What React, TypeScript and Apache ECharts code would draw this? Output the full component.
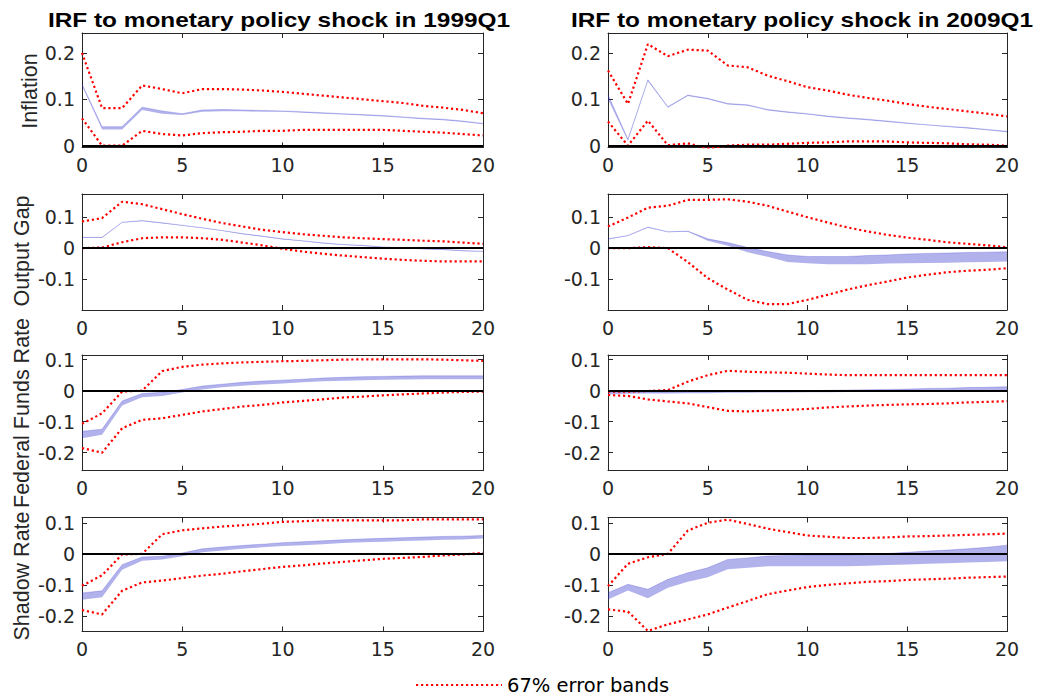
import React, { useEffect, useRef } from "react";
import * as echarts from "echarts";

// Horizons (quarters after the shock)
const horizons = Array.from({ length: 21 }, (_, i) => String(i));

const titles = [
  "IRF to monetary policy shock in 1999Q1",
  "IRF to monetary policy shock in 2009Q1",
];
const variableNames = ["Inflation", "Output Gap", "Federal Funds Rate", "Shadow Rate"];
const legendLabel = "67% error bands";

// ---- 1999Q1 Inflation
const infl99Up = [0.200, 0.081, 0.081, 0.130, 0.122, 0.113, 0.122, 0.122, 0.121, 0.119, 0.116, 0.112, 0.108, 0.104, 0.100, 0.096, 0.092, 0.086, 0.082, 0.077, 0.070];
const infl99Lo = [0.059, 0.000, 0.000, 0.032, 0.025, 0.022, 0.027, 0.029, 0.030, 0.032, 0.032, 0.034, 0.034, 0.034, 0.034, 0.034, 0.032, 0.030, 0.028, 0.025, 0.022];
const infl99MedLo = [0.129, 0.035, 0.035, 0.077, 0.069, 0.066, 0.073, 0.074, 0.074, 0.073, 0.073, 0.071, 0.069, 0.067, 0.065, 0.063, 0.060, 0.057, 0.055, 0.051, 0.046];
const infl99MedHi = [0.133, 0.041, 0.041, 0.083, 0.075, 0.069, 0.077, 0.078, 0.077, 0.076, 0.075, 0.073, 0.071, 0.069, 0.067, 0.065, 0.062, 0.059, 0.057, 0.053, 0.048];

// ---- 2009Q1 Inflation
const infl09Up = [0.162, 0.090, 0.219, 0.193, 0.207, 0.205, 0.173, 0.169, 0.151, 0.139, 0.126, 0.119, 0.110, 0.103, 0.097, 0.090, 0.084, 0.079, 0.074, 0.069, 0.063];
const infl09Lo = [0.052, 0.000, 0.054, 0.001, 0.005, -0.006, 0.000, 0.002, 0.002, 0.004, 0.006, 0.007, 0.009, 0.009, 0.009, 0.007, 0.006, 0.005, 0.003, 0.002, 0.000];
const infl09MedLo = [0.100, 0.010, 0.139, 0.082, 0.107, 0.100, 0.089, 0.086, 0.076, 0.071, 0.067, 0.062, 0.058, 0.055, 0.051, 0.047, 0.044, 0.040, 0.037, 0.033, 0.029];
const infl09MedHi = [0.110, 0.014, 0.142, 0.084, 0.109, 0.102, 0.091, 0.088, 0.078, 0.073, 0.069, 0.064, 0.060, 0.057, 0.053, 0.049, 0.045, 0.042, 0.039, 0.035, 0.031];

// ---- 1999Q1 Output Gap
const gap99Up = [0.086, 0.097, 0.150, 0.142, 0.126, 0.110, 0.095, 0.081, 0.070, 0.059, 0.052, 0.045, 0.040, 0.035, 0.032, 0.029, 0.027, 0.024, 0.022, 0.018, 0.014];
const gap99Lo = [0.000, 0.002, 0.019, 0.032, 0.035, 0.035, 0.032, 0.027, 0.018, 0.009, -0.002, -0.011, -0.018, -0.024, -0.029, -0.034, -0.038, -0.041, -0.043, -0.043, -0.043];
const gap99MedLo = [0.033, 0.033, 0.082, 0.087, 0.080, 0.072, 0.064, 0.055, 0.045, 0.037, 0.028, 0.022, 0.015, 0.010, 0.007, 0.002, -0.001, -0.004, -0.006, -0.010, -0.012];
const gap99MedHi = [0.035, 0.035, 0.084, 0.089, 0.082, 0.074, 0.066, 0.057, 0.047, 0.039, 0.030, 0.024, 0.017, 0.012, 0.009, 0.004, 0.001, -0.002, -0.004, -0.008, -0.010];

// ---- 2009Q1 Output Gap
const gap09Up = [0.070, 0.099, 0.131, 0.137, 0.156, 0.156, 0.158, 0.150, 0.137, 0.118, 0.100, 0.083, 0.067, 0.054, 0.043, 0.034, 0.027, 0.019, 0.014, 0.009, 0.003];
const gap09Lo = [0.000, 0.000, 0.003, 0.000, -0.045, -0.097, -0.134, -0.167, -0.181, -0.181, -0.167, -0.151, -0.134, -0.120, -0.108, -0.095, -0.086, -0.078, -0.073, -0.070, -0.065];
const gap09MedLo = [0.028, 0.039, 0.066, 0.051, 0.053, 0.024, 0.008, -0.013, -0.028, -0.045, -0.049, -0.052, -0.052, -0.052, -0.050, -0.049, -0.048, -0.047, -0.046, -0.045, -0.043];
const gap09MedHi = [0.030, 0.041, 0.068, 0.053, 0.055, 0.030, 0.018, 0.002, -0.011, -0.022, -0.027, -0.027, -0.027, -0.024, -0.022, -0.019, -0.017, -0.016, -0.014, -0.013, -0.012];

// ---- 1999Q1 Federal Funds Rate
const ffr99Up = [-0.107, -0.073, -0.003, 0.000, 0.063, 0.077, 0.084, 0.088, 0.091, 0.093, 0.095, 0.096, 0.098, 0.100, 0.101, 0.101, 0.101, 0.101, 0.100, 0.098, 0.096];
const ffr99Lo = [-0.185, -0.200, -0.121, -0.094, -0.089, -0.078, -0.067, -0.059, -0.051, -0.046, -0.038, -0.033, -0.028, -0.022, -0.019, -0.015, -0.012, -0.009, -0.006, -0.004, -0.003];
const ffr99MedLo = [-0.153, -0.142, -0.048, -0.021, -0.017, -0.006, 0.004, 0.011, 0.016, 0.020, 0.023, 0.027, 0.030, 0.032, 0.034, 0.035, 0.036, 0.037, 0.037, 0.037, 0.037];
const ffr99MedHi = [-0.131, -0.124, -0.033, -0.009, -0.005, 0.004, 0.015, 0.021, 0.027, 0.031, 0.034, 0.037, 0.041, 0.043, 0.045, 0.046, 0.047, 0.048, 0.048, 0.048, 0.048];

// ---- 2009Q1 Federal Funds Rate
const ffr09Up = [-0.003, -0.003, -0.001, 0.002, 0.029, 0.050, 0.064, 0.061, 0.059, 0.058, 0.055, 0.052, 0.050, 0.050, 0.050, 0.050, 0.050, 0.050, 0.050, 0.050, 0.050];
const ffr09Lo = [-0.014, -0.017, -0.028, -0.035, -0.041, -0.053, -0.065, -0.067, -0.064, -0.062, -0.059, -0.054, -0.051, -0.048, -0.046, -0.044, -0.043, -0.041, -0.038, -0.036, -0.034];
const ffr09MedLo = [-0.012, -0.010, -0.009, -0.009, -0.008, -0.008, -0.007, -0.007, -0.006, -0.006, -0.005, -0.005, -0.004, -0.004, -0.004, -0.003, -0.003, -0.003, -0.002, -0.002, -0.002];
const ffr09MedHi = [-0.004, -0.004, -0.004, -0.004, -0.003, -0.003, -0.002, -0.002, -0.001, -0.001, 0.000, 0.001, 0.002, 0.003, 0.004, 0.005, 0.007, 0.008, 0.010, 0.011, 0.013];

// ---- 1999Q1 Shadow Rate
const sr99Up = [-0.103, -0.069, -0.002, 0.000, 0.063, 0.076, 0.082, 0.088, 0.092, 0.097, 0.103, 0.105, 0.108, 0.108, 0.108, 0.108, 0.108, 0.111, 0.111, 0.111, 0.111];
const sr99Lo = [-0.181, -0.195, -0.119, -0.092, -0.086, -0.078, -0.070, -0.064, -0.056, -0.049, -0.042, -0.037, -0.031, -0.026, -0.021, -0.016, -0.013, -0.010, -0.005, -0.002, 0.003];
const sr99MedLo = [-0.148, -0.140, -0.051, -0.022, -0.018, -0.008, 0.005, 0.011, 0.016, 0.021, 0.025, 0.028, 0.031, 0.035, 0.037, 0.039, 0.041, 0.043, 0.045, 0.046, 0.049];
const sr99MedHi = [-0.126, -0.119, -0.035, -0.010, -0.008, 0.003, 0.016, 0.022, 0.027, 0.031, 0.036, 0.039, 0.042, 0.045, 0.048, 0.050, 0.052, 0.054, 0.056, 0.057, 0.059];

// ---- 2009Q1 Shadow Rate
const sr09Up = [-0.104, -0.032, -0.011, 0.000, 0.075, 0.100, 0.110, 0.096, 0.081, 0.070, 0.059, 0.055, 0.051, 0.051, 0.053, 0.056, 0.057, 0.059, 0.061, 0.063, 0.065];
const sr09Lo = [-0.179, -0.186, -0.248, -0.227, -0.211, -0.195, -0.173, -0.152, -0.130, -0.118, -0.107, -0.100, -0.095, -0.090, -0.088, -0.084, -0.082, -0.080, -0.077, -0.075, -0.073];
const sr09MedLo = [-0.147, -0.118, -0.143, -0.109, -0.090, -0.075, -0.050, -0.045, -0.040, -0.040, -0.040, -0.040, -0.040, -0.038, -0.036, -0.034, -0.032, -0.030, -0.028, -0.026, -0.024];
const sr09MedHi = [-0.125, -0.098, -0.114, -0.082, -0.061, -0.045, -0.018, -0.013, -0.007, -0.005, -0.004, -0.004, -0.004, -0.002, 0.001, 0.005, 0.009, 0.012, 0.016, 0.021, 0.028];

// y-axis tick values per row
const rowTicks = [
  [0, 0.1, 0.2],
  [-0.1, 0, 0.1],
  [-0.2, -0.1, 0, 0.1],
  [-0.2, -0.1, 0, 0.1],
];

const panels = [
  { row: 0, col: 0, up: infl99Up, lo: infl99Lo, mLo: infl99MedLo, mHi: infl99MedHi },
  { row: 0, col: 1, up: infl09Up, lo: infl09Lo, mLo: infl09MedLo, mHi: infl09MedHi },
  { row: 1, col: 0, up: gap99Up, lo: gap99Lo, mLo: gap99MedLo, mHi: gap99MedHi },
  { row: 1, col: 1, up: gap09Up, lo: gap09Lo, mLo: gap09MedLo, mHi: gap09MedHi },
  { row: 2, col: 0, up: ffr99Up, lo: ffr99Lo, mLo: ffr99MedLo, mHi: ffr99MedHi },
  { row: 2, col: 1, up: ffr09Up, lo: ffr09Lo, mLo: ffr09MedLo, mHi: ffr09MedHi },
  { row: 3, col: 0, up: sr99Up, lo: sr99Lo, mLo: sr99MedLo, mHi: sr99MedHi },
  { row: 3, col: 1, up: sr09Up, lo: sr09Lo, mLo: sr09MedLo, mHi: sr09MedHi },
];

// layout (pixels) and axis ranges
const colLayout = [
  { left: 82, width: 401, titleX: 279 },
  { left: 608, width: 399, titleX: 802 },
];
const rowLayout = [
  { top: 33, height: 114.5, min: -0.004, max: 0.243, nameX: 30, nameY: 91 },
  { top: 194, height: 116, min: -0.2, max: 0.175, nameX: 22, nameY: 251 },
  { top: 355, height: 115.7, min: -0.258, max: 0.115, nameX: 22, nameY: 413 },
  { top: 517.5, height: 114, min: -0.25, max: 0.117, nameX: 22, nameY: 576 },
];

const AXIS = "#262626";
const TXT = "#262626";
const RED = "#ff0000";
const BAND = "rgba(51,51,204,0.38)";
const BAND_EDGE = "rgba(51,51,204,0.3)";

const fmt = (v: number) => {
  const r = Math.round(v * 10) / 10;
  return r === 0 ? "0" : String(r);
};

export default function App() {
  const ref = useRef<HTMLDivElement>(null);

  useEffect(() => {
    if (!ref.current) return;
    const chart = echarts.init(ref.current, null, { renderer: "svg" });

    const grid: any[] = [];
    const xAxis: any[] = [];
    const yAxis: any[] = [];
    const series: any[] = [];

    panels.forEach((p, i) => {
      const C = colLayout[p.col];
      const R = rowLayout[p.row];
      const ticks = rowTicks[p.row];
      grid.push({
        left: C.left,
        width: C.width,
        top: R.top,
        height: R.height,
        containLabel: false,
        outerBoundsMode: "none",
      });
      const axisLine = { show: true, onZero: false, lineStyle: { color: AXIS, width: 1 } };
      const xBase = {
        type: "category",
        gridIndex: i,
        data: horizons,
        boundaryGap: false,
        axisLine,
        axisTick: { show: true, inside: true, length: 5, interval: 4, lineStyle: { color: AXIS } },
        splitLine: { show: false },
      };
      xAxis.push({
        ...xBase,
        position: "bottom",
        axisLabel: {
          interval: 4,
          margin: 8,
          color: TXT,
          fontFamily: "DejaVu Sans",
          fontSize: 19,
        },
      });
      xAxis.push({ ...xBase, position: "top", axisLabel: { show: false } });
      const yBase = {
        type: "value",
        gridIndex: i,
        min: R.min,
        max: R.max,
        axisLine,
        axisTick: {
          show: true,
          inside: true,
          length: 5,
          customValues: ticks,
          lineStyle: { color: AXIS },
        },
        splitLine: { show: false },
      };
      yAxis.push({
        ...yBase,
        position: "left",
        axisLabel: {
          customValues: ticks,
          formatter: fmt,
          margin: 7,
          color: TXT,
          fontFamily: "DejaVu Sans",
          fontSize: 19,
        },
      });
      yAxis.push({ ...yBase, position: "right", axisLabel: { show: false } });

      const xi = 2 * i;
      const yi = 2 * i;
      const stack = "band" + i;
      // lower edge of the median band (invisible) + zero reference line
      series.push({
        type: "line",
        name: "bandLow" + i,
        xAxisIndex: xi,
        yAxisIndex: yi,
        data: p.mLo,
        stack,
        stackStrategy: "all",
        symbol: "none",
        silent: true,
        z: 1,
        lineStyle: { width: 0, opacity: 0 },
        markLine: {
          silent: true,
          symbol: "none",
          label: { show: false },
          lineStyle: { color: "#000", width: 2, type: "solid" },
          data: [{ yAxis: 0 }],
        },
      });
      // width of median band stacked on top
      series.push({
        type: "line",
        name: "band" + i,
        xAxisIndex: xi,
        yAxisIndex: yi,
        data: p.mHi.map((v, k) => +(v - p.mLo[k]).toFixed(4)),
        stack,
        stackStrategy: "all",
        symbol: "none",
        silent: true,
        z: 2,
        lineStyle: { width: 0.8, color: BAND_EDGE },
        areaStyle: { color: BAND, opacity: 1 },
      });
      [p.up, p.lo].forEach((d) => {
        series.push({
          type: "line",
          name: legendLabel,
          xAxisIndex: xi,
          yAxisIndex: yi,
          data: d,
          symbol: "none",
          silent: true,
          z: 3,
          itemStyle: { color: RED },
          lineStyle: { color: RED, width: 2.2, type: [2.2, 2.8] },
        });
      });
    });

    const graphic: any[] = [];
    titles.forEach((t, c) => {
      graphic.push({
        type: "text",
        x: colLayout[c].titleX,
        y: 20,
        scaleX: 1.22,
        silent: true,
        style: {
          text: t,
          font: 'bold 20px "Liberation Sans"',
          fill: "#000",
          textAlign: "center",
          textVerticalAlign: "middle",
        },
      });
    });
    variableNames.forEach((n, r) => {
      graphic.push({
        type: "text",
        x: rowLayout[r].nameX,
        y: rowLayout[r].nameY,
        rotation: Math.PI / 2,
        silent: true,
        style: {
          text: n,
          font: '21.5px "Liberation Sans"',
          fill: TXT,
          textAlign: "center",
          textVerticalAlign: "middle",
        },
      });
    });

    chart.setOption({
      animation: false,
      backgroundColor: "#ffffff",
      grid,
      xAxis,
      yAxis,
      series,
      graphic,
      legend: {
        data: [legendLabel],
        left: 415,
        top: 675,
        padding: 0,
        itemWidth: 86,
        itemHeight: 14,
        selectedMode: false,
        itemStyle: { opacity: 0, color: "transparent", borderWidth: 0 },
        textStyle: { fontFamily: "DejaVu Sans", fontSize: 19.5, color: "#000" },
      },
    });

    return () => chart.dispose();
  }, []);

  return (
    <div
      ref={ref}
      style={{ position: "fixed", left: 0, top: 0, width: 1046, height: 696, background: "#fff" }}
    />
  );
}
